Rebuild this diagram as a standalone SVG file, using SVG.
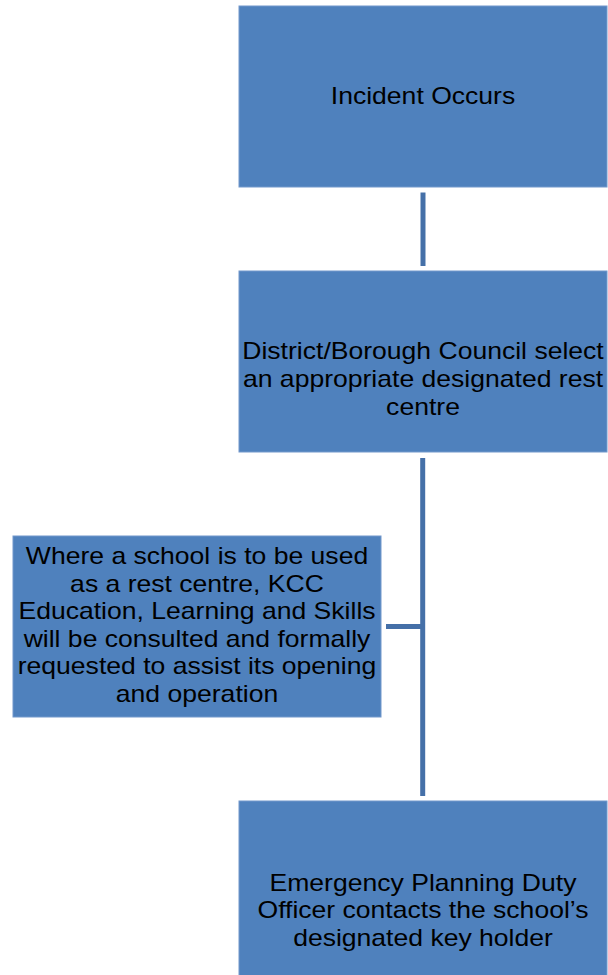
<svg xmlns="http://www.w3.org/2000/svg" width="608" height="975" viewBox="0 0 608 975">
<style>
.box{fill:#4F81BD;stroke:#7398CB;stroke-width:1}
.t{font-family:"Liberation Sans",Arial,sans-serif;font-size:23px;fill:#000;text-anchor:middle}
.c{stroke:#4570A8;stroke-width:5;fill:none}
</style>
<rect width="608" height="975" fill="#fff"/>
<g id="connectors">
<line class="c" x1="423" y1="192.5" x2="423" y2="266"/>
<line class="c" x1="422.7" y1="458" x2="422.7" y2="796"/>
<line class="c" x1="386" y1="626.5" x2="422.7" y2="626.5"/>
</g>
<g id="incident">
<rect class="box" x="239" y="6" width="368" height="181"/>
<text class="t" transform="translate(423,104) scale(1.155,1)">Incident Occurs</text>
</g>
<g id="council">
<rect class="box" x="239" y="271" width="368" height="181"/>
<g transform="translate(423,0)">
<text class="t" transform="translate(0,359) scale(1.155,1)">District/Borough Council select</text>
<text class="t" transform="translate(0,387) scale(1.155,1)">an appropriate designated rest</text>
<text class="t" transform="translate(0,415) scale(1.155,1)">centre</text>
</g>
</g>
<g id="school">
<rect class="box" x="13" y="536" width="368" height="181"/>
<g transform="translate(197,0)">
<text class="t" transform="translate(0,564) scale(1.155,1)">Where a school is to be used</text>
<text class="t" transform="translate(0,591.6) scale(1.155,1)">as a rest centre, KCC</text>
<text class="t" transform="translate(0,619.2) scale(1.155,1)">Education, Learning and Skills</text>
<text class="t" transform="translate(0,646.8) scale(1.155,1)">will be consulted and formally</text>
<text class="t" transform="translate(0,674.4) scale(1.155,1)">requested to assist its opening</text>
<text class="t" transform="translate(0,702) scale(1.155,1)">and operation</text>
</g>
</g>
<g id="officer">
<rect class="box" x="239" y="801" width="368" height="181"/>
<g transform="translate(423,0)">
<text class="t" transform="translate(0,891) scale(1.155,1)">Emergency Planning Duty</text>
<text class="t" transform="translate(0,918.3) scale(1.155,1)">Officer contacts the school’s</text>
<text class="t" transform="translate(0,945.6) scale(1.155,1)">designated key holder</text>
</g>
</g>
</svg>
